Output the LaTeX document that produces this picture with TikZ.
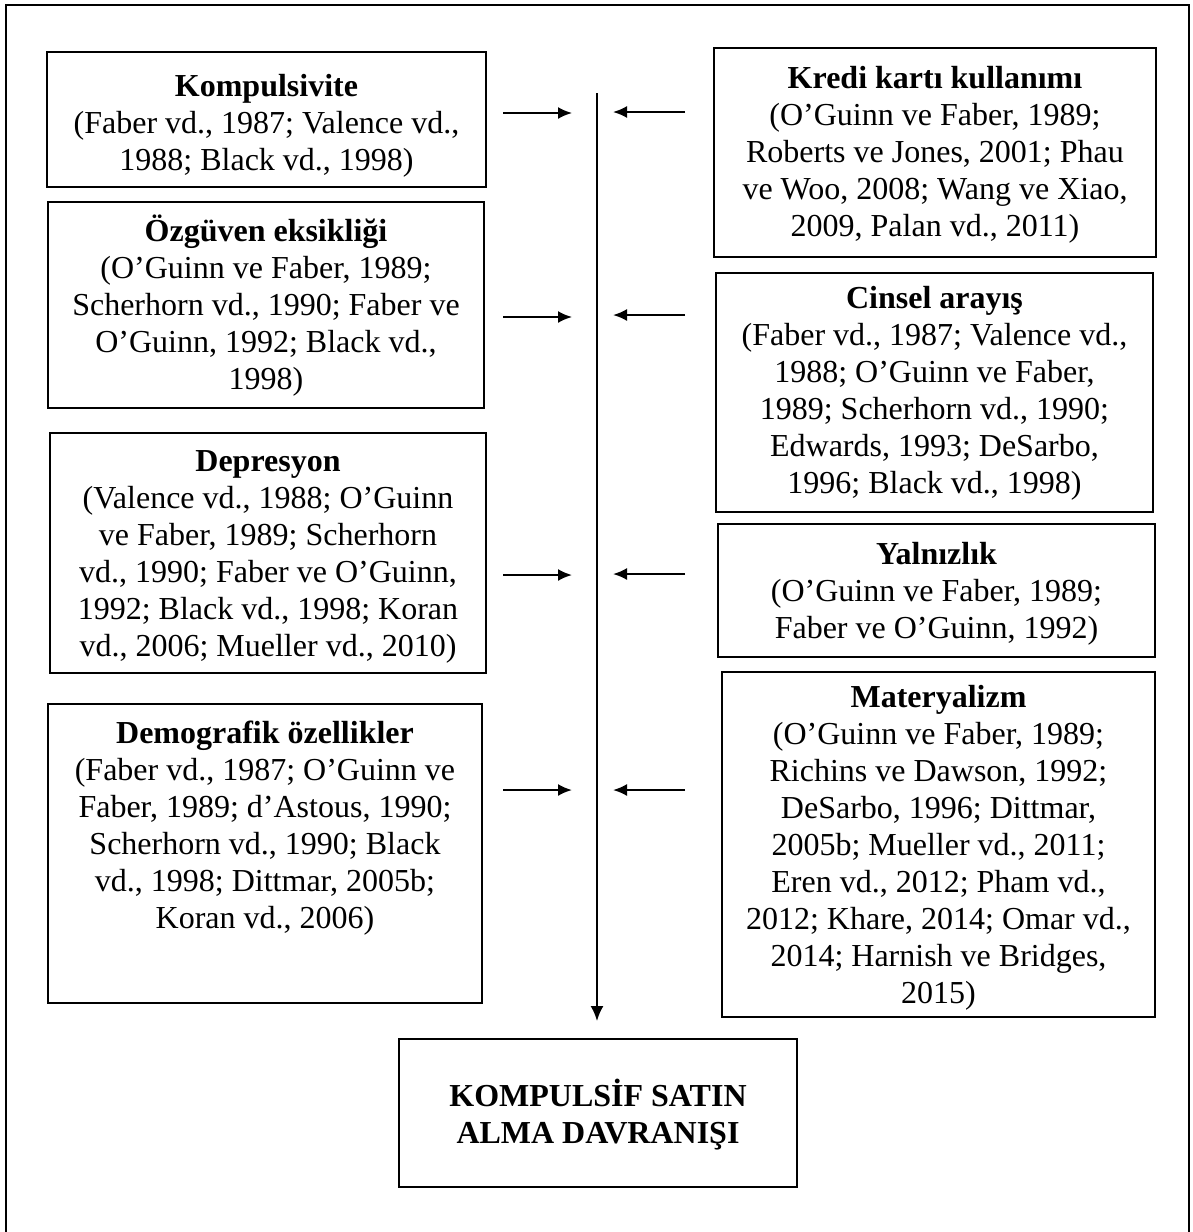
\documentclass[tikz,border=0pt]{standalone}
\usepackage{fontspec}
\setmainfont{Liberation Serif}
\usetikzlibrary{arrows.meta}
\begin{document}
\begin{tikzpicture}[x=1pt,y=-1pt,
  box/.style={draw, line width=2.2pt, inner sep=0pt, outer sep=0pt, anchor=north west},
  txt/.style={inner sep=0pt, align=center, font=\fontsize{32}{37}\selectfont},
  arr/.style={line width=2pt, -{Latex[length=14pt,width=12pt]}},
  frame/.style={line width=2.5pt}]
\useasboundingbox (0,0) rectangle (1193,1232);
\clip (0,0) rectangle (1193,1232);
\draw[frame] (6,1245) -- (6,5) -- (1189,5) -- (1189,1245);

% left column
\node[box, minimum width=439pt, minimum height=135pt] (komp) at (47,52) {};
\node[txt] (komptxt) at ([yshift=-6pt]komp.center)
  {\textbf{Kompulsivite}\\(Faber vd., 1987; Valence vd.,\\1988; Black vd., 1998)};
\node[box, minimum width=436pt, minimum height=206pt] (ozg) at (48,202) {};
\node[txt] (ozgtxt) at ([yshift=-1pt]ozg.center)
  {\textbf{Özgüven eksikliği}\\(O’Guinn ve Faber, 1989;\\Scherhorn vd., 1990; Faber ve\\O’Guinn, 1992; Black vd.,\\1998)};
\node[box, minimum width=436pt, minimum height=240pt] (dep) at (50,433) {};
\node[txt] (deptxt) at ([yshift=-4pt]dep.center)
  {\textbf{Depresyon}\\(Valence vd., 1988; O’Guinn\\ve Faber, 1989; Scherhorn\\vd., 1990; Faber ve O’Guinn,\\1992; Black vd., 1998; Koran\\vd., 2006; Mueller vd., 2010)};
\node[box, minimum width=434pt, minimum height=299pt] (demo) at (48,704) {};
\node[txt] (demotxt) at ([yshift=25pt]demo.center)
  {\textbf{Demografik özellikler}\\(Faber vd., 1987; O’Guinn ve\\Faber, 1989; d’Astous, 1990;\\Scherhorn vd., 1990; Black\\vd., 1998; Dittmar, 2005b;\\Koran vd., 2006)};

% right column
\node[box, minimum width=442pt, minimum height=209pt] (kredi) at (714,48) {};
\node[txt] (kreditxt) at ([yshift=-2pt]kredi.center)
  {\textbf{Kredi kartı kullanımı}\\(O’Guinn ve Faber, 1989;\\Roberts ve Jones, 2001; Phau\\ve Woo, 2008; Wang ve Xiao,\\2009, Palan vd., 2011)};
\node[box, minimum width=437pt, minimum height=239pt] (cins) at (716,273) {};
\node[txt] (cinstxt) at ([yshift=-1pt]cins.center)
  {\textbf{Cinsel arayış}\\(Faber vd., 1987; Valence vd.,\\1988; O’Guinn ve Faber,\\1989; Scherhorn vd., 1990;\\Edwards, 1993; DeSarbo,\\1996; Black vd., 1998)};
\node[box, minimum width=437pt, minimum height=133pt] (yal) at (718,524) {};
\node[txt] (yaltxt) at ([yshift=-3pt]yal.center)
  {\textbf{Yalnızlık}\\(O’Guinn ve Faber, 1989;\\Faber ve O’Guinn, 1992)};
\node[box, minimum width=433pt, minimum height=345pt] (mat) at (722,672) {};
\node[txt] (mattxt) at ([yshift=-3pt]mat.center)
  {\textbf{Materyalizm}\\(O’Guinn ve Faber, 1989;\\Richins ve Dawson, 1992;\\DeSarbo, 1996; Dittmar,\\2005b; Mueller vd., 2011;\\Eren vd., 2012; Pham vd.,\\2012; Khare, 2014; Omar vd.,\\2014; Harnish ve Bridges,\\2015)};

% result
\node[box, minimum width=398pt, minimum height=148pt] (res) at (399,1039) {};
\node[txt] (restxt) at ([yshift=-2pt]res.center)
  {\textbf{KOMPULSİF SATIN}\\\textbf{ALMA DAVRANIŞI}};

% central line
\coordinate (vtop) at (597,93);
\coordinate (vbot) at (597,1021);
\draw[line width=2pt,-{Latex[length=15pt,width=13pt]}] (vtop) -- (vbot);

% left arrows
\foreach \y/\n in {113/a,317/b,575/c,790/d}{
  \coordinate (l\n s) at (503,\y);
  \coordinate (l\n e) at (572,\y);
  \draw[arr] (l\n s) -- (l\n e);
}
% right arrows
\foreach \y/\n in {112/a,315/b,574/c,790/d}{
  \coordinate (r\n s) at (685,\y);
  \coordinate (r\n e) at (613,\y);
  \draw[arr] (r\n s) -- (r\n e);
}
\end{tikzpicture}
\end{document}
